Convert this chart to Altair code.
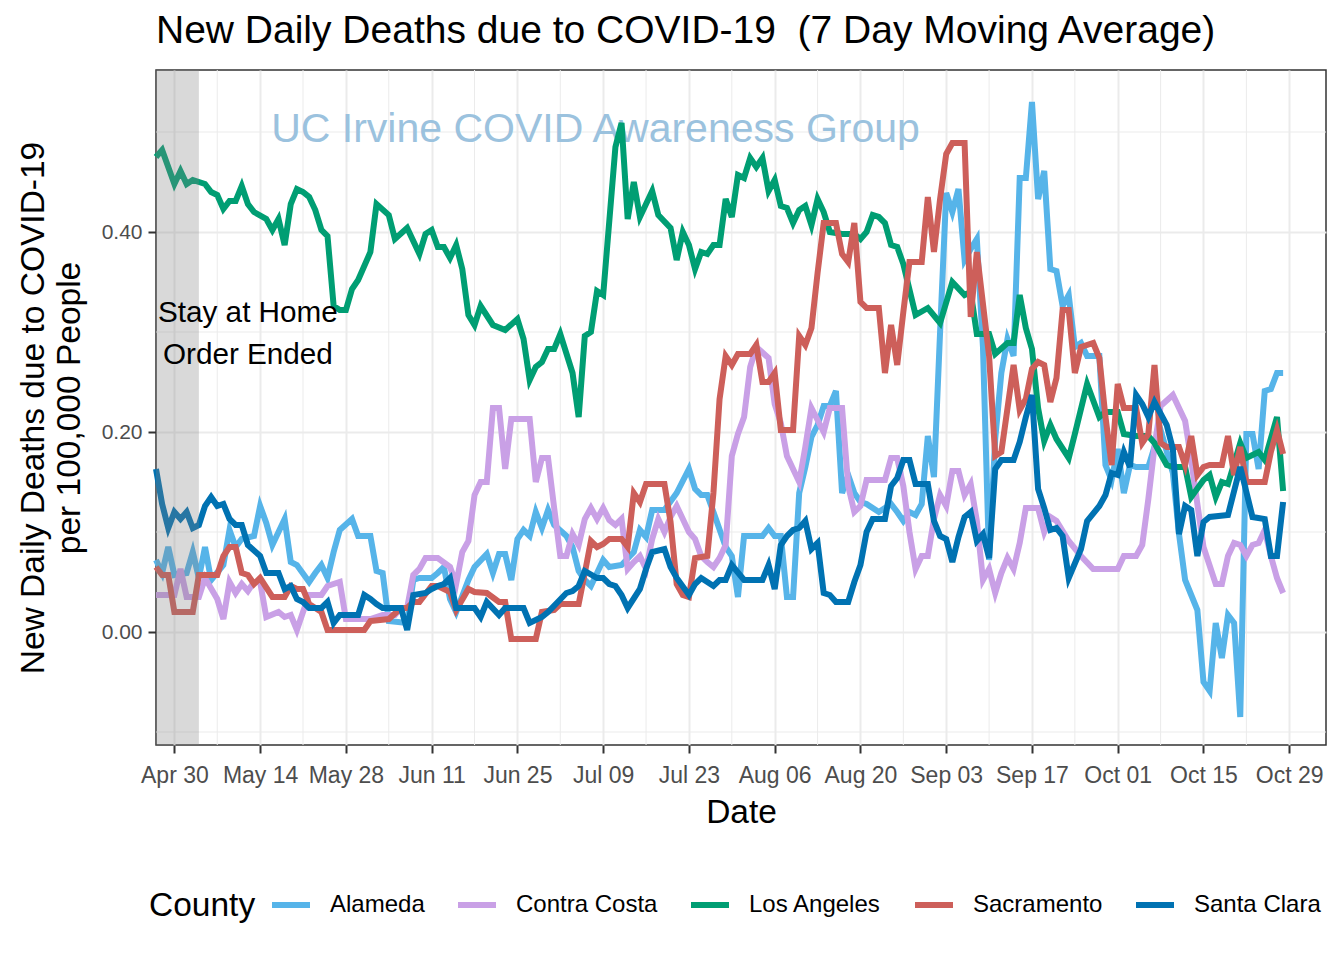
import altair as alt
import pandas as pd

START = pd.Timestamp("2020-04-30")
FONT = "Liberation Sans"

counties = ["Alameda", "Contra Costa", "Los Angeles", "Sacramento", "Santa Clara"]
colors = ["#56B4E9", "#C9A0E6", "#009E73", "#CD5F5A", "#0072B2"]

# day offsets from 2020-04-30, values = deaths per 100k (7-day avg)
alameda_days = [-3,-2,-1,0,2,3,4,5,6,8,9,10,11,13,14,15,16,18,19,20,22,23,24,25,26,27,29,30,32,33,34,35,38,39,40,42,43,44,45,46,48,49,51,52,53,54,55,56,57,58,59,60,61,62,64,65,66,67,68,69,70,71,73,75,76,77,78,80,82,84,85,86,87,88,90,91,92,93,96,97,98,99,100,101,102,103,104,105,106,107,108,109,110,111,112,113,115,116,117,118,119,120,121,122,123,124,125,126,127,128,129,130,131,132,133,134,135,136,137,138,139,140,141,142,143,144,145,146,147,148,149,151,152,153,154,155,156,157,159,160,161,163,164,165,166,167,168,169,170,171,172,173,174,175,176,177,178,179,180,181]
alameda_vals = [0.072,0.059,0.085,0.057,0.059,0.080,0.054,0.085,0.052,0.067,0.102,0.085,0.093,0.096,0.126,0.109,0.087,0.113,0.070,0.067,0.050,0.059,0.067,0.054,0.080,0.102,0.113,0.096,0.096,0.061,0.059,0.011,0.009,0.052,0.054,0.054,0.059,0.065,0.033,0.020,0.052,0.065,0.078,0.059,0.078,0.078,0.052,0.093,0.102,0.096,0.120,0.104,0.122,0.107,0.096,0.085,0.061,0.052,0.046,0.059,0.072,0.065,0.067,0.080,0.102,0.095,0.122,0.122,0.139,0.163,0.143,0.137,0.137,0.120,0.085,0.076,0.035,0.096,0.096,0.104,0.096,0.096,0.035,0.035,0.139,0.165,0.195,0.207,0.226,0.226,0.241,0.139,0.157,0.139,0.130,0.128,0.120,0.124,0.128,0.120,0.111,0.120,0.117,0.128,0.196,0.155,0.300,0.439,0.420,0.443,0.372,0.383,0.393,0.285,0.072,0.193,0.259,0.293,0.276,0.454,0.454,0.530,0.433,0.461,0.363,0.361,0.326,0.337,0.285,0.289,0.276,0.276,0.167,0.152,0.183,0.139,0.167,0.165,0.165,0.185,0.202,0.159,0.098,0.052,0.037,0.022,-0.050,-0.059,0.009,-0.026,0.017,0.009,-0.085,0.198,0.198,0.163,0.241,0.243,0.259,0.259]

contra_days = [-3,0,1,2,4,5,7,8,9,10,11,12,13,14,15,17,18,19,20,21,22,24,25,27,28,32,34,36,37,38,39,40,41,43,45,46,47,48,49,50,51,52,53,54,55,58,59,60,61,62,63,64,65,66,67,68,69,70,71,72,73,74,75,76,77,78,79,80,81,82,83,84,85,86,87,88,89,90,91,92,93,94,95,97,98,99,100,102,103,104,106,107,109,110,111,112,113,116,117,118,119,120,121,122,123,124,125,126,127,128,129,130,131,132,133,134,135,136,137,138,139,141,142,143,144,146,148,150,154,155,157,158,159,160,161,163,165,166,167,168,170,171,172,173,174,175,176,177,178,179,180,181]
contra_vals = [0.037,0.037,0.063,0.035,0.035,0.054,0.033,0.013,0.050,0.039,0.048,0.041,0.050,0.050,0.015,0.020,0.015,0.017,0.002,0.020,0.037,0.037,0.046,0.050,0.013,0.013,0.017,0.017,0.024,0.024,0.057,0.063,0.074,0.074,0.065,0.048,0.080,0.091,0.137,0.150,0.150,0.224,0.224,0.163,0.213,0.213,0.150,0.174,0.174,0.124,0.076,0.076,0.098,0.087,0.113,0.124,0.113,0.124,0.112,0.107,0.113,0.063,0.070,0.076,0.063,0.093,0.113,0.100,0.115,0.126,0.113,0.100,0.093,0.076,0.070,0.065,0.074,0.087,0.176,0.198,0.215,0.265,0.285,0.274,0.228,0.209,0.176,0.150,0.185,0.224,0.200,0.224,0.224,0.146,0.120,0.126,0.152,0.152,0.174,0.174,0.146,0.100,0.063,0.076,0.076,0.113,0.137,0.126,0.161,0.161,0.137,0.148,0.111,0.052,0.063,0.039,0.059,0.074,0.063,0.089,0.124,0.124,0.100,0.115,0.111,0.091,0.076,0.063,0.063,0.076,0.076,0.087,0.133,0.185,0.226,0.237,0.211,0.172,0.128,0.085,0.048,0.048,0.076,0.089,0.087,0.076,0.087,0.089,0.102,0.076,0.054,0.039]

la_days = [-3,-2,-1,0,1,2,3,5,6,7,8,9,10,11,12,13,15,16,17,18,19,20,21,22,23,24,25,26,27,28,29,30,32,33,35,36,38,40,41,42,43,44,45,46,47,48,49,50,52,54,56,57,58,59,60,61,62,63,65,66,67,68,69,70,72,73,74,75,76,78,79,81,82,83,84,85,86,87,88,89,90,91,92,93,94,95,96,97,98,99,100,101,102,103,104,105,106,107,109,111,112,113,114,115,116,117,118,119,121,123,125,127,129,130,131,133,134,136,137,138,139,140,141,142,143,144,146,147,149,151,152,154,155,157,159,160,162,163,165,166,168,169,170,171,172,174,175,177,178,180,181]
la_vals = [0.475,0.482,0.465,0.448,0.461,0.448,0.452,0.448,0.440,0.437,0.423,0.431,0.431,0.446,0.428,0.420,0.413,0.402,0.413,0.387,0.428,0.443,0.440,0.435,0.422,0.402,0.396,0.326,0.322,0.322,0.343,0.352,0.380,0.428,0.417,0.393,0.404,0.378,0.398,0.402,0.385,0.385,0.374,0.387,0.363,0.317,0.307,0.326,0.307,0.302,0.313,0.293,0.252,0.265,0.270,0.283,0.283,0.298,0.259,0.215,0.296,0.300,0.341,0.337,0.485,0.509,0.413,0.450,0.415,0.441,0.417,0.404,0.372,0.400,0.387,0.363,0.380,0.378,0.387,0.387,0.433,0.415,0.457,0.454,0.474,0.465,0.474,0.441,0.452,0.426,0.424,0.409,0.422,0.426,0.407,0.433,0.420,0.400,0.398,0.398,0.393,0.400,0.417,0.415,0.409,0.387,0.385,0.368,0.317,0.324,0.309,0.350,0.337,0.340,0.298,0.298,0.278,0.289,0.289,0.337,0.304,0.283,0.224,0.191,0.207,0.193,0.174,0.198,0.248,0.215,0.220,0.220,0.198,0.196,0.196,0.189,0.167,0.165,0.165,0.135,0.152,0.157,0.135,0.150,0.148,0.189,0.174,0.180,0.172,0.215,0.141]

sac_days = [-3,-2,-1,0,3,4,7,8,9,10,11,12,13,14,16,18,19,20,21,22,24,25,31,32,35,37,38,39,40,42,43,45,46,48,49,51,53,54,55,59,60,62,63,66,67,68,69,70,71,73,74,75,76,77,80,81,82,83,84,85,87,88,89,90,91,92,94,95,96,97,98,99,101,102,103,104,105,106,108,109,110,111,112,113,115,116,117,118,119,120,122,123,124,125,126,127,129,130,131,133,134,135,137,138,139,140,141,142,143,144,145,146,147,148,150,151,152,153,154,155,157,158,159,160,161,162,164,165,166,167,168,169,171,172,173,174,175,178,179,180,181]
sac_vals = [0.065,0.057,0.057,0.020,0.020,0.057,0.057,0.076,0.085,0.085,0.059,0.057,0.048,0.054,0.035,0.035,0.046,0.043,0.043,0.028,0.020,0.002,0.002,0.011,0.013,0.024,0.024,0.030,0.030,0.046,0.046,0.040,0.022,0.043,0.040,0.039,0.030,0.030,-0.007,-0.007,0.020,0.022,0.028,0.028,0.059,0.091,0.085,0.088,0.093,0.093,0.085,0.139,0.130,0.148,0.148,0.110,0.048,0.037,0.035,0.074,0.076,0.139,0.233,0.276,0.267,0.278,0.278,0.287,0.250,0.250,0.259,0.202,0.202,0.296,0.287,0.304,0.359,0.409,0.409,0.378,0.370,0.409,0.330,0.324,0.324,0.259,0.307,0.267,0.320,0.370,0.370,0.435,0.380,0.433,0.478,0.489,0.489,0.315,0.380,0.276,0.176,0.180,0.267,0.222,0.233,0.263,0.270,0.267,0.230,0.254,0.322,0.322,0.259,0.285,0.289,0.274,0.215,0.167,0.248,0.224,0.224,0.189,0.198,0.267,0.189,0.185,0.185,0.167,0.196,0.157,0.165,0.167,0.167,0.196,0.157,0.185,0.150,0.150,0.180,0.202,0.178]

sc_days = [-3,-2,-1,0,1,2,3,4,5,6,7,8,9,10,11,12,14,15,17,18,19,20,21,22,24,25,26,27,30,31,32,33,34,37,38,39,41,42,43,44,45,46,49,50,51,53,54,57,58,60,61,64,65,66,67,69,70,71,72,73,74,76,77,78,80,81,82,84,85,86,88,89,90,91,93,96,97,98,99,100,101,102,103,104,105,106,107,108,110,111,112,113,114,116,117,118,119,120,121,123,124,125,126,127,128,129,130,131,132,133,134,135,137,138,139,140,141,142,143,144,145,146,148,149,151,152,153,154,155,156,157,158,159,160,162,163,164,165,166,167,168,169,172,174,176,178,179,180,181]
sc_vals = [0.163,0.128,0.104,0.120,0.113,0.120,0.104,0.107,0.126,0.135,0.126,0.128,0.113,0.107,0.107,0.087,0.076,0.059,0.059,0.043,0.046,0.033,0.030,0.024,0.024,0.030,0.009,0.017,0.017,0.037,0.033,0.028,0.024,0.024,0.002,0.037,0.039,0.043,0.046,0.048,0.054,0.024,0.024,0.015,0.030,0.017,0.024,0.024,0.009,0.015,0.020,0.039,0.041,0.046,0.061,0.054,0.054,0.048,0.046,0.037,0.024,0.043,0.063,0.080,0.083,0.065,0.054,0.037,0.048,0.054,0.046,0.052,0.052,0.067,0.052,0.052,0.067,0.043,0.087,0.096,0.102,0.104,0.111,0.083,0.089,0.039,0.037,0.030,0.030,0.050,0.067,0.100,0.113,0.113,0.146,0.154,0.172,0.172,0.148,0.148,0.111,0.096,0.093,0.070,0.095,0.115,0.120,0.091,0.098,0.074,0.163,0.172,0.172,0.190,0.215,0.237,0.143,0.124,0.102,0.104,0.096,0.054,0.083,0.111,0.126,0.137,0.159,0.157,0.180,0.165,0.237,0.228,0.215,0.230,0.207,0.183,0.098,0.126,0.122,0.076,0.110,0.115,0.117,0.165,0.115,0.113,0.076,0.076,0.130]

major_ticks = ["2020-04-30", "2020-05-14", "2020-05-28", "2020-06-11", "2020-06-25", "2020-07-09", "2020-07-23",
               "2020-08-06", "2020-08-20", "2020-09-03", "2020-09-17", "2020-10-01", "2020-10-15", "2020-10-29"]
minor_ticks = ["2020-05-07", "2020-05-21", "2020-06-04", "2020-06-18", "2020-07-02", "2020-07-16", "2020-07-30",
               "2020-08-13", "2020-08-27", "2020-09-10", "2020-09-24", "2020-10-08", "2020-10-22"]
y_major = [0.0, 0.2, 0.4]
y_minor = [-0.1, 0.1, 0.3, 0.5]

series = {
    "Alameda": (alameda_days, alameda_vals),
    "Contra Costa": (contra_days, contra_vals),
    "Los Angeles": (la_days, la_vals),
    "Sacramento": (sac_days, sac_vals),
    "Santa Clara": (sc_days, sc_vals),
}
rows = []
for county, (days, vals) in series.items():
    for d, v in zip(days, vals):
        rows.append({"date": (START + pd.Timedelta(days=d)).strftime("%Y-%m-%d"),
                     "value": v, "County": county})
df = pd.DataFrame(rows)


def dt(s):
    t = pd.Timestamp(s)
    return alt.DateTime(year=t.year, month=t.month, date=t.day, utc=True)


xscale = alt.Scale(type="utc", domain=[dt("2020-04-27"), dt("2020-11-04")])
yscale = alt.Scale(domain=[-0.113, 0.562], nice=False, zero=False)

xaxis = alt.Axis(values=[dt(s) for s in major_ticks], format="%b %d", labelFontSize=23,
                 labelColor="#4D4D4D", tickColor="#333333", tickWidth=2, tickSize=8, labelPadding=11,
                 domain=False, grid=True, gridColor="#EBEBEB", gridWidth=2, labelFlush=False,
                 labelOverlap=False, title="Date", titleFontSize=33.5, titleFontWeight="normal",
                 titleColor="black", titleBaseline="alphabetic", titleY=77)
yaxis = alt.Axis(values=y_major, format=".2f", labelFontSize=21, labelColor="#4D4D4D",
                 tickColor="#333333", tickWidth=2, tickSize=8, labelPadding=6, domain=False,
                 grid=True, gridColor="#EBEBEB", gridWidth=2,
                 title=["New Daily Deaths due to COVID-19", "per 100,000 People"],
                 titleFontSize=33.5, titleFontWeight="normal", titleColor="black",
                 titleX=-113, titleY=337.5, titleBaseline="alphabetic", titleLineHeight=36,
                 titleAlign="center")

xgrid = alt.Chart(pd.DataFrame({"d": minor_ticks})).mark_rule(color="#EBEBEB", strokeWidth=1).encode(
    x=alt.X("d:T", scale=xscale, axis=xaxis))
ygrid = alt.Chart(pd.DataFrame({"v": y_minor})).mark_rule(color="#EBEBEB", strokeWidth=1).encode(
    y=alt.Y("v:Q", scale=yscale, axis=yaxis))

watermark = alt.Chart(pd.DataFrame({"d": ["2020-07-07T18:00:00Z"], "v": [0.502]})).mark_text(
    text="UC Irvine COVID Awareness Group", fontSize=41, color="#9BC2DE", align="center",
    baseline="middle").encode(x="d:T", y="v:Q")

lines = alt.Chart(df).mark_line(strokeWidth=6).encode(
    x=alt.X("date:T"),
    y=alt.Y("value:Q"),
    color=alt.Color("County:N", scale=alt.Scale(domain=counties, range=colors),
                    legend=alt.Legend(orient="none", legendX=-7, legendY=813, direction="horizontal",
                                      titleOrient="left", title="County", titleFontSize=33.5,
                                      titleFontWeight="normal", titleColor="black",
                                      titleBaseline="line-top", titleLineHeight=12, labelFontSize=24,
                                      labelColor="black", symbolType="stroke", symbolSize=1444,
                                      symbolStrokeWidth=6, labelOffset=17, columnPadding=21,
                                      titlePadding=13, labelLimit=400)),
    detail="County:N",
)

band = alt.Chart(pd.DataFrame({"s": ["2020-04-27"], "e": ["2020-05-04"]})).mark_rect(
    color="#808080", opacity=0.3).encode(x="s:T", x2="e:T")

annot = alt.Chart(pd.DataFrame({"d": ["2020-05-12"], "v": [0.319]})).mark_text(
    text=["Stay at Home", "Order Ended"], fontSize=29.7, lineHeight=42, color="black",
    align="center", baseline="middle").encode(x="d:T", y="v:Q")

chart = alt.layer(xgrid, ygrid, watermark, lines, band, annot).properties(
    width=1170, height=675,
    autosize=alt.AutoSizeParams(type="none"),
    padding={"left": 148, "top": 62, "right": 10, "bottom": 207},
    title=alt.TitleParams("New Daily Deaths due to COVID-19\u00a0 (7 Day Moving Average)",
                          anchor="start", frame="group", fontSize=39, fontWeight="normal",
                          color="black", baseline="alphabetic", offset=25, dy=37),
).configure(font=FONT, background="white").configure_view(stroke="#333333", strokeWidth=1.5)

chart.save("out.html", embed_options={"renderer": "svg", "actions": False})
